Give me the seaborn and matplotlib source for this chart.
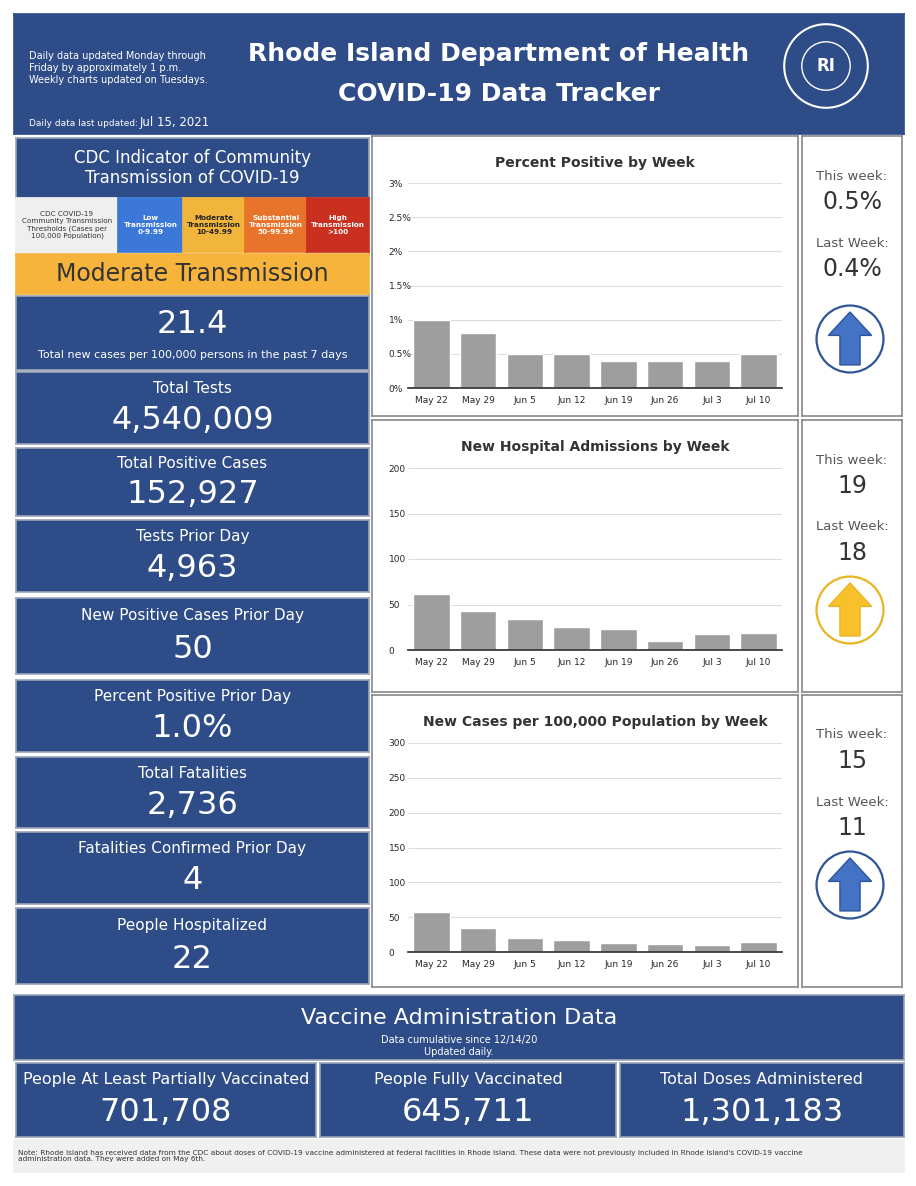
import numpy as np
import pandas as pd
import matplotlib
matplotlib.use("Agg")
import matplotlib.pyplot as plt
import seaborn as sns
from matplotlib.patches import Circle, Polygon

# datos
weeks = ["May 22", "May 29", "Jun 5", "Jun 12", "Jun 19", "Jun 26", "Jul 3", "Jul 10"]
pct_positive = [1.0, 0.8, 0.5, 0.5, 0.4, 0.4, 0.4, 0.5]
hosp_admissions = [61, 43, 34, 25, 23, 10, 18, 19]
cases_per_100k = [58, 35, 20, 17, 13, 12, 10, 15]

stat_labels = ["Total Tests", "Total Positive Cases", "Tests Prior Day",
               "New Positive Cases Prior Day", "Percent Positive Prior Day",
               "Total Fatalities", "Fatalities Confirmed Prior Day", "People Hospitalized"]
stat_values = ["4,540,009", "152,927", "4,963", "50", "1.0%", "2,736", "4", "22"]
stat_y = [(372, 444), (448, 516), (520, 592), (598, 674), (680, 752),
          (757, 828), (832, 904), (908, 984)]

vacc_labels = ["People At Least Partially Vaccinated", "People Fully Vaccinated",
               "Total Doses Administered"]
vacc_values = ["701,708", "645,711", "1,301,183"]

week_side = [("0.5%", "0.4%", "blue"), ("19", "18", "yellow"), ("15", "11", "blue")]

W, H = 916, 1186
BLUE = "#2e4c87"
sns.set_theme(style="white")
plt.rcParams['font.family'] = ['DejaVu Sans']
fig = plt.figure(figsize=(W / 100, H / 100), dpi=100)
fig.patch.set_facecolor("white")


def ax_px(x0, y0, x1, y1):
    return fig.add_axes([x0 / W, 1 - y1 / H, (x1 - x0) / W, (y1 - y0) / H])


def box(x0, y0, x1, y1, color=BLUE, edge="#9aa4b8"):
    a = ax_px(x0, y0, x1, y1)
    a.set_xlim(0, 1); a.set_ylim(0, 1)
    a.set_facecolor(color)
    for s in a.spines.values():
        s.set_color(edge); s.set_linewidth(1.2)
    a.set_xticks([]); a.set_yticks([])
    return a


# header
h = box(14, 14, 904, 134, edge=BLUE)
h.text(0.017, 0.55, "Daily data updated Monday through\nFriday by approximately 1 p.m.\nWeekly charts updated on Tuesdays.",
       color="white", fontsize=7, va="center", linespacing=1.3)
h.text(0.017, 0.07, "Daily data last updated:", color="white", fontsize=6.5)
h.text(0.141, 0.07, "Jul 15, 2021", color="white", fontsize=8.5)
h.text(0.545, 0.67, "Rhode Island Department of Health", color="white", fontsize=18,
       fontweight="bold", ha="center", va="center")
h.text(0.545, 0.33, "COVID-19 Data Tracker", color="white", fontsize=18,
       fontweight="bold", ha="center", va="center")
lg = ax_px(782, 22, 870, 110)
lg.set_xlim(-1, 1); lg.set_ylim(-1, 1); lg.set_aspect("equal"); lg.axis("off")
lg.add_patch(Circle((0, 0), 0.95, fill=False, ec="white", lw=1.5))
lg.add_patch(Circle((0, 0), 0.55, fill=False, ec="white", lw=1))
lg.text(0, 0, "RI", color="white", ha="center", va="center", fontsize=12, fontweight="bold")

# CDC indicator
c = box(16, 138, 369, 198)
c.text(0.5, 0.5, "CDC Indicator of Community\nTransmission of COVID-19", color="white",
       fontsize=12, ha="center", va="center")
thr = [(16, 118, "#efefef", "CDC COVID-19\nCommunity Transmission\nThresholds (Cases per\n100,000 Population)", "#333333"),
       (118, 183, "#3b78d8", "Low\nTransmission\n0-9.99", "white"),
       (183, 245, "#f1b53c", "Moderate\nTransmission\n10-49.99", "#222222"),
       (245, 307, "#e8742b", "Substantial\nTransmission\n50-99.99", "white"),
       (307, 369, "#c9301f", "High\nTransmission\n>100", "white")]
for x0, x1, col, txt, tc in thr:
    t = box(x0, 198, x1, 252, color=col, edge=col)
    t.text(0.5, 0.5, txt, color=tc, fontsize=5.2, ha="center", va="center",
           fontweight="bold" if col != "#efefef" else "normal")
m = box(16, 254, 369, 294, color="#f6b43d", edge="#f6b43d")
m.text(0.5, 0.5, "Moderate Transmission", color="#333333", fontsize=17, ha="center", va="center")
r = box(16, 296, 369, 370)
r.text(0.5, 0.62, "21.4", color="white", fontsize=23, ha="center", va="center")
r.text(0.5, 0.2, "Total new cases per 100,000 persons in the past 7 days", color="white",
       fontsize=8, ha="center", va="center")

for lab, val, (y0, y1) in zip(stat_labels, stat_values, stat_y):
    s = box(16, y0, 369, y1)
    s.text(0.5, 0.77, lab, color="white", fontsize=11, ha="center", va="center")
    s.text(0.5, 0.32, val, color="white", fontsize=23, ha="center", va="center")

# graficas semanales
charts = [
    ("Percent Positive by Week", pct_positive, (136, 416), (183, 388), 3, 0.5, lambda v: f"{v:g}%"),
    ("New Hospital Admissions by Week", hosp_admissions, (420, 692), (468, 650), 200, 50, lambda v: f"{v:g}"),
    ("New Cases per 100,000 Population by Week", cases_per_100k, (695, 987), (743, 952), 300, 50, lambda v: f"{v:g}"),
]
for (title, vals, (py0, py1), (ay0, ay1), top, step, fmt), (tw, lw_, arrow) in zip(charts, week_side):
    box(372, py0, 798, py1, color="white", edge="#888888")
    ax = ax_px(408, ay0, 782, ay1)
    df = pd.DataFrame({"week": weeks, "value": vals})
    sns.barplot(data=df, x="week", y="value", color="#9e9e9e", width=0.78, ax=ax, saturation=1)
    ax.set_ylim(0, top)
    ticks = np.arange(0, top + step / 2, step)
    ax.set_yticks(ticks)
    ax.set_yticklabels([fmt(v) for v in ticks], fontsize=6.5)
    ax.tick_params(axis="x", labelsize=6.5, length=0, pad=6)
    ax.tick_params(axis="y", length=0, pad=14)
    for lab in ax.get_yticklabels():
        lab.set_horizontalalignment("left")
    ax.grid(axis="y", color="#dddddd", lw=0.8)
    ax.set_axisbelow(True)
    ax.set_xlabel(""); ax.set_ylabel("")
    for k in ["top", "right", "left"]:
        ax.spines[k].set_visible(False)
    ax.spines["bottom"].set_color("#333333")
    ax.text(0.5, (ay0 - (py0 + 27)) / (ay1 - ay0) + 1.0, title, transform=ax.transAxes,
            ha="center", va="center", fontsize=10, fontweight="bold", color="#333333")

    sp = box(802, py0, 902, py1, color="white", edge="#888888")
    ph = py1 - py0
    def fy(y):
        return 1 - (y - py0) / ph
    sp.text(0.5, fy(py0 + 40), "This week:", ha="center", va="center", fontsize=9.5, color="#555555")
    sp.text(0.5, fy(py0 + 66), tw, ha="center", va="center", fontsize=17, color="#333333")
    sp.text(0.5, fy(py0 + 107), "Last Week:", ha="center", va="center", fontsize=9.5, color="#555555")
    sp.text(0.5, fy(py0 + 133), lw_, ha="center", va="center", fontsize=17, color="#333333")
    cy = py0 + 203 if py0 == 136 else py0 + 190
    aa = ax_px(812, cy - 36, 888, cy + 36)
    aa.set_xlim(-1, 1); aa.set_ylim(-1, 1); aa.set_aspect("equal"); aa.axis("off")
    fc = "#4472c4" if arrow == "blue" else "#f8c12c"
    ec = "#2f5597" if arrow == "blue" else "#e7b520"
    aa.add_patch(Circle((0, 0), 0.93, fc="white", ec=ec, lw=1.6))
    aa.add_patch(Polygon([(0, 0.75), (0.6, 0.1), (0.28, 0.1), (0.28, -0.72),
                          (-0.28, -0.72), (-0.28, 0.1), (-0.6, 0.1)],
                         closed=True, fc=fc, ec=ec, lw=1))

# vacunas
v = box(14, 995, 904, 1060)
v.text(0.5, 0.64, "Vaccine Administration Data", color="white", fontsize=16, ha="center", va="center")
v.text(0.5, 0.3, "Data cumulative since 12/14/20", color="white", fontsize=7, ha="center", va="center")
v.text(0.5, 0.13, "Updated daily.", color="white", fontsize=7, ha="center", va="center")
for (x0, x1), lab, val in zip([(16, 316), (320, 616), (620, 904)], vacc_labels, vacc_values):
    b = box(x0, 1063, x1, 1137)
    b.text(0.5, 0.78, lab, color="white", fontsize=11.5, ha="center", va="center")
    b.text(0.5, 0.33, val, color="white", fontsize=23, ha="center", va="center")

n = box(14, 1140, 904, 1172, color="#f0f0f0", edge="#f0f0f0")
n.text(0.005, 0.5, "Note: Rhode Island has received data from the CDC about doses of COVID-19 vaccine administered at federal facilities in Rhode Island. "
       "These data were not previously included in Rhode Island's COVID-19 vaccine\nadministration data. They were added on May 6th.",
       fontsize=5.3, color="#333333", va="center", family="Liberation Sans Narrow")

fig.savefig("out.png", dpi=100, facecolor="white")
